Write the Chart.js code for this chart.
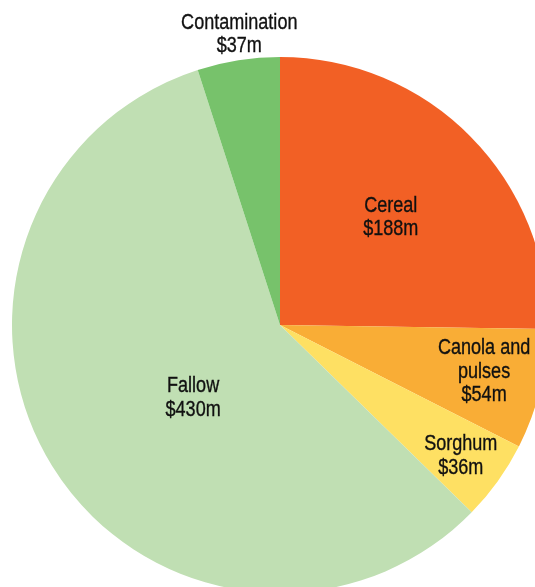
<!DOCTYPE html>
<html>
<head>
<meta charset="utf-8">
<script src="https://cdn.jsdelivr.net/npm/chart.js@4/dist/chart.umd.min.js"></script>
<style>
  html, body { margin: 0; padding: 0; background: #ffffff; overflow: hidden; }
  #wrap { position: relative; width: 535px; height: 587px; overflow: hidden; }
  canvas { display: block; }
</style>
</head>
<body>
<div id="wrap"><canvas id="pie" width="560" height="600"></canvas></div>
<script>
// Annual weed cost by crop type ($ million)
const categories = ['Cereal', 'Canola and pulses', 'Sorghum', 'Fallow', 'Contamination'];
const values = [188, 54, 36, 430, 37];
const labelLines = [
  ['Cereal', '$188m'],
  ['Canola and', 'pulses', '$54m'],
  ['Sorghum', '$36m'],
  ['Fallow', '$430m'],
  ['Contamination', '$37m']
];
const colors = ['#F26025', '#F9AD36', '#FEE063', '#C0DFB3', '#77C26B'];

// label placement: radial distance as fraction of radius, angular nudge in degrees
const labelRadius = [0.58, 0.78, 0.83, 0.42, 1.10];
const labelNudge = [0, -1.4, 0, -7.7, 1];

const FONT = '"Liberation Sans", Arial, sans-serif';
const CONDENSE = 0.82;   // horizontal squeeze for a condensed look

const sliceLabels = {
  id: 'sliceLabels',
  afterDatasetsDraw(chart) {
    const ctx = chart.ctx;
    const meta = chart.getDatasetMeta(0);
    const lineH = 23.5;
    meta.data.forEach((arc, i) => {
      const p = arc.getProps(['x', 'y', 'startAngle', 'endAngle', 'outerRadius'], true);
      const mid = (p.startAngle + p.endAngle) / 2 + labelNudge[i] * Math.PI / 180;
      const r = p.outerRadius * labelRadius[i];
      const cx = p.x + Math.cos(mid) * r;
      const cy = p.y + Math.sin(mid) * r + 1.5;
      const lines = labelLines[i];
      const top = cy - (lines.length - 1) * lineH / 2;
      ctx.save();
      ctx.translate(cx, 0);
      ctx.scale(CONDENSE, 1);
      ctx.font = '22px ' + FONT;
      ctx.fillStyle = '#111111';
      ctx.strokeStyle = '#111111';
      ctx.lineWidth = 0.35;
      ctx.textAlign = 'center';
      ctx.textBaseline = 'middle';
      lines.forEach((t, k) => {
        ctx.fillText(t, 0, top + k * lineH);
        ctx.strokeText(t, 0, top + k * lineH);
      });
      ctx.restore();
    });
  }
};

new Chart(document.getElementById('pie'), {
  type: 'pie',
  data: {
    labels: categories,
    datasets: [{
      data: values,
      backgroundColor: colors,
      borderWidth: 0,
      hoverOffset: 0
    }]
  },
  options: {
    responsive: false,
    animation: false,
    layout: { padding: { left: 12, right: 12, top: 57, bottom: 7 } },
    plugins: {
      legend: { display: false },
      tooltip: { enabled: false }
    }
  },
  plugins: [sliceLabels]
});
</script>
</body>
</html>
